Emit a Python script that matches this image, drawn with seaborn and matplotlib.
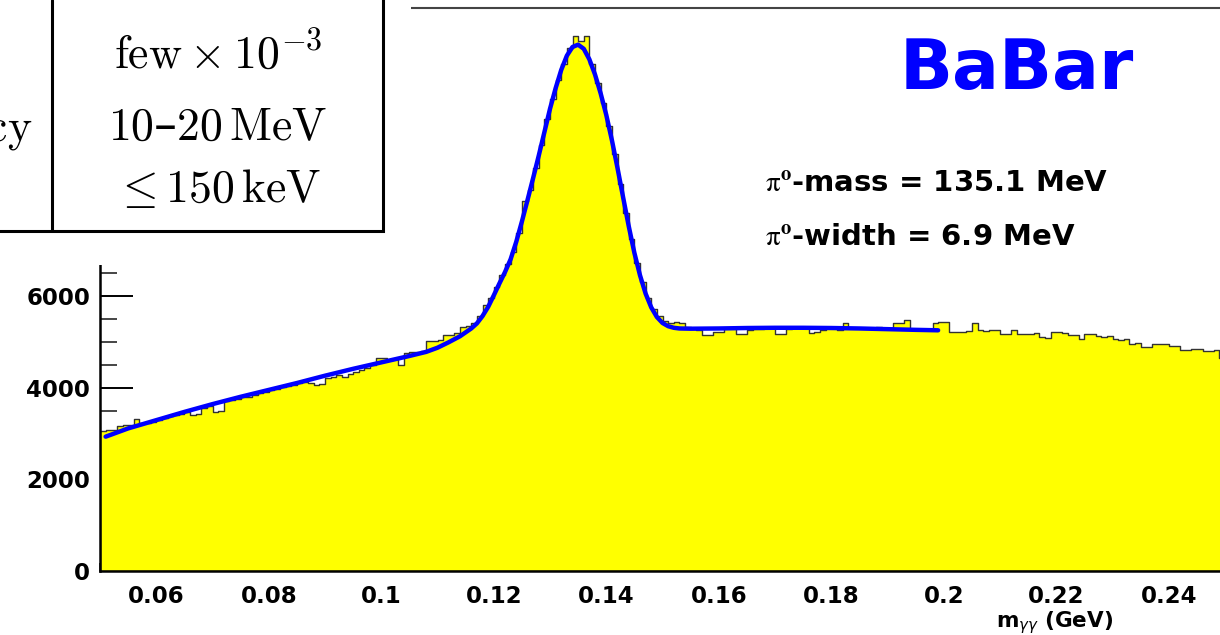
import numpy as np
import pandas as pd
import seaborn as sns
import matplotlib.pyplot as plt
from matplotlib.patches import Rectangle
from matplotlib.lines import Line2D
from matplotlib.ticker import MultipleLocator, FixedLocator

# m(gamma gamma) histogram, 1 MeV bins from 0.050 to 0.250 GeV
counts = [
    3050, 3070, 3080, 3170, 3180, 3190, 3310, 3230, 3220, 3240,
    3300, 3340, 3370, 3400, 3430, 3470, 3400, 3420, 3550, 3600,
    3470, 3500, 3700, 3730, 3760, 3790, 3800, 3830, 3880, 3900,
    3950, 3960, 4010, 4030, 4060, 4090, 4130, 4100, 4060, 4080,
    4210, 4230, 4270, 4240, 4300, 4350, 4380, 4420, 4500, 4640,
    4650, 4600, 4620, 4490, 4760, 4770, 4780, 4800, 5010, 5020,
    5040, 5140, 5150, 5200, 5330, 5350, 5420, 5560, 5800, 5960,
    6200, 6450, 6700, 6950, 7380, 8080, 8300, 8800, 9300, 9850,
    10300, 10700, 11050, 11400, 11680, 11570, 11680, 11050, 10650, 10200,
    9700, 9100, 8450, 7800, 7250, 6720, 6300, 5950, 5720, 5560,
    5450, 5400, 5430, 5400, 5330, 5290, 5250, 5140, 5150, 5210,
    5220, 5290, 5300, 5180, 5170, 5260, 5280, 5270, 5300, 5310,
    5160, 5160, 5280, 5300, 5290, 5310, 5200, 5210, 5260, 5290,
    5300, 5260, 5410, 5300, 5290, 5310, 5300, 5280, 5320, 5300,
    5310, 5420, 5400, 5470, 5280, 5260, 5250, 5260, 5420, 5430,
    5440, 5220, 5210, 5220, 5230, 5400, 5250, 5240, 5250, 5260,
    5180, 5170, 5250, 5180, 5170, 5180, 5190, 5100, 5090, 5210,
    5220, 5200, 5140, 5140, 5070, 5180, 5170, 5120, 5110, 5120,
    5050, 5040, 5060, 4960, 4970, 4890, 4880, 4960, 4960, 4950,
    4900, 4900, 4820, 4810, 4840, 4850, 4800, 4790, 4810, 4640,
]
hist_range = (0.05, 0.25)

# fit curve
fit_x = [
    0.051, 0.055, 0.060, 0.065, 0.070, 0.075, 0.080, 0.085, 0.090, 0.095,
    0.100, 0.105, 0.108, 0.110, 0.112, 0.114, 0.116, 0.117, 0.118, 0.119,
    0.120, 0.121, 0.122, 0.123, 0.124, 0.125, 0.126, 0.127, 0.128, 0.129,
    0.130, 0.131, 0.132, 0.133, 0.134, 0.135, 0.136, 0.137, 0.138, 0.139,
    0.140, 0.141, 0.142, 0.143, 0.144, 0.145, 0.146, 0.147, 0.148, 0.149,
    0.150, 0.151, 0.152, 0.153, 0.155, 0.160, 0.165, 0.170, 0.175, 0.180,
    0.185, 0.190, 0.195, 0.199,
]
fit_y = [
    2930, 3110, 3290, 3470, 3640, 3800, 3950, 4100, 4260, 4410,
    4550, 4690, 4780, 4870, 4990, 5120, 5290, 5400, 5560, 5760,
    6010, 6270, 6520, 6800, 7180, 7620, 8090, 8570, 9060, 9570,
    10080, 10530, 10930, 11240, 11430, 11480, 11390, 11160, 10830, 10420,
    9950, 9400, 8790, 8150, 7520, 6940, 6450, 6050, 5750, 5540,
    5410, 5340, 5305, 5290, 5285, 5290, 5300, 5305, 5305, 5300,
    5290, 5275, 5260, 5250,
]

x_ticks = [0.06, 0.08, 0.10, 0.12, 0.14, 0.16, 0.18, 0.20, 0.22, 0.24]
x_tick_labels = ["0.06", "0.08", "0.1", "0.12", "0.14", "0.16", "0.18", "0.2", "0.22", "0.24"]
y_ticks = [0, 2000, 4000, 6000]
y_tick_labels = ["0", "2000", "4000", "6000"]

# table pasted over the top-left corner
table_values = [r"$\mathrm{few}\times10^{-3}$", r"$10$–$20\,\mathrm{MeV}$", r"$\leq150\,\mathrm{keV}$"]

W, H = 1220, 635
sns.set_theme(style="ticks")
plt.rcParams["font.family"] = ["DejaVu Sans"]
plt.rcParams["text.color"] = "black"

fig = plt.figure(figsize=(W / 100, H / 100), dpi=100)
ax = fig.add_axes([100 / W, 64 / H, 1125 / W, 563 / H])

df = pd.DataFrame({"m": np.linspace(0.0505, 0.2495, len(counts)), "n": counts})
sns.histplot(data=df, x="m", weights="n", bins=len(counts), binrange=hist_range,
             element="step", fill=True, color="#ffff00", alpha=1,
             edgecolor="#333333", linewidth=1.0, ax=ax)
sns.lineplot(x=fit_x, y=fit_y, color="#0000ff", linewidth=3.2, ax=ax)

ax.set_xlim(0.05, 0.25)
ax.set_ylim(0, 12280)
ax.set_xlabel("")
ax.set_ylabel("")
ax.xaxis.set_major_locator(FixedLocator(x_ticks))
ax.set_xticklabels(x_tick_labels)
ax.xaxis.set_minor_locator(MultipleLocator(0.005))
ax.set_yticks(y_ticks, y_tick_labels)
ax.yaxis.set_minor_locator(MultipleLocator(500))
ax.tick_params(axis="x", which="major", direction="in", length=12, width=1.4, pad=10, labelsize=16.5, colors="black")
ax.tick_params(axis="x", which="minor", direction="in", length=6, width=1.2)
ax.tick_params(axis="y", which="major", direction="in", length=24, width=1.4, pad=7, labelsize=16.5, colors="black")
ax.tick_params(axis="y", which="minor", direction="in", length=12, width=1.2)
for lbl in ax.get_xticklabels() + ax.get_yticklabels():
    lbl.set_fontweight("bold")

for side in ["left", "bottom"]:
    ax.spines[side].set_color("black")
    ax.spines[side].set_linewidth(1.8)
ax.spines["top"].set_visible(True)
ax.spines["top"].set_color("#444444")
ax.spines["top"].set_linewidth(1.5)
ax.spines["right"].set_visible(False)

# labels inside the frame
fig.text(1017 / W, 1 - 70 / H, "BaBar", color="#0000ff", fontsize=50,
         fontweight="bold", ha="center", va="center")
fig.text(765 / W, 1 - 183 / H, r"$\mathrm{\pi}^{\mathbf{o}}$-mass = 135.1 MeV",
         fontsize=21, fontweight="bold", ha="left", va="center", math_fontfamily="stix")
fig.text(765 / W, 1 - 237 / H, r"$\mathrm{\pi}^{\mathbf{o}}$-width = 6.9 MeV",
         fontsize=21, fontweight="bold", ha="left", va="center", math_fontfamily="stix")
fig.text(1055 / W, 1 - 609 / H, r"m$_{\gamma\gamma}$ (GeV)", fontsize=15.5,
         fontweight="bold", ha="center", va="top")

# white cover + table box
fig.add_artist(Rectangle((0, 1 - 265 / H), 411 / W, 265 / H, transform=fig.transFigure,
                         facecolor="white", edgecolor="none", zorder=3))
fig.add_artist(Rectangle((-5 / W, 1 - 231 / H), 388 / W, 241 / H, transform=fig.transFigure,
                         facecolor="white", edgecolor="black", linewidth=2.2, zorder=4))
fig.add_artist(Line2D([52 / W, 52 / W], [1 - 231 / H, 1], transform=fig.transFigure,
                      color="black", linewidth=2.2, zorder=5))

for txt, base in zip(table_values, [68, 140, 202]):
    fig.text(218 / W, 1 - base / H, txt, fontsize=33, ha="center", va="baseline",
             math_fontfamily="cm", zorder=6)
# left column of the table is cut off by the picture edge
fig.text(32 / W, 1 - 140 / H, r"$\mathrm{accuracy}$", fontsize=33, ha="right", va="baseline",
         math_fontfamily="cm", zorder=6)

fig.savefig("out.png", dpi=100)
